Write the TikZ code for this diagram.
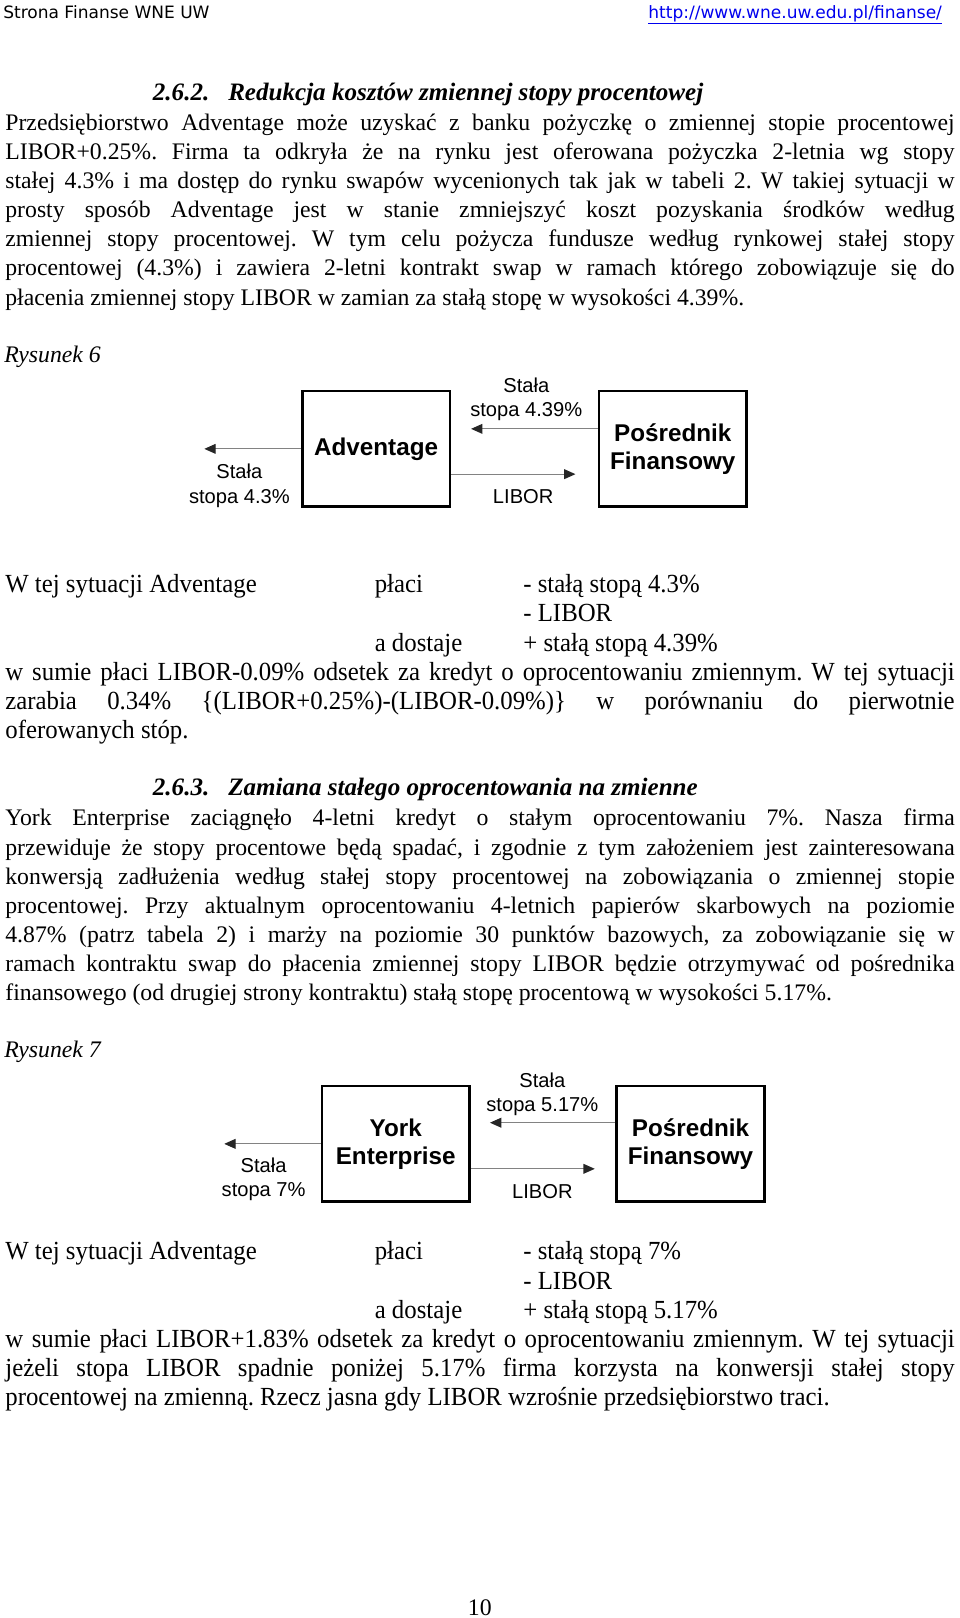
\documentclass[tikz,border=0pt]{standalone}
\usepackage{fontspec}
\setmainfont{Liberation Serif}
\newfontfamily\sansfam{Liberation Sans}
\newfontfamily\webfam{DejaVu Sans}
\newfontfamily\condfam[FakeStretch=0.95]{Liberation Serif}
\usetikzlibrary{arrows.meta}
\definecolor{linkblue}{RGB}{0,0,238}
\definecolor{flowgray}{RGB}{130,130,130}
\frenchspacing
\newcommand{\txtfont}{\fontsize{23}{28.2}\selectfont}
\newcommand{\condtxt}{\condfam\fontsize{25.3}{28.2}\selectfont}
\newcommand{\jline}[1]{\makebox[920pt][s]{#1}}
\tikzset{
  txt/.style={anchor=base west, inner sep=0pt, font=\txtfont},
  cond/.style={anchor=base west, inner sep=0pt, font=\condtxt},
  head/.style={anchor=base west, inner sep=0pt, font=\fontsize{24.3}{28}\selectfont\bfseries\itshape},
  box/.style={draw, line width=2.5pt, minimum width=143pt, minimum height=112pt, inner sep=0pt,
    align=center, font=\sansfam\bfseries\fontsize{23.5}{27}\selectfont},
  lbl/.style={inner sep=0pt, align=center, font=\sansfam\fontsize{19.5}{23.5}\selectfont},
  flow/.style={draw=flowgray, line width=1.1pt, -{Triangle[length=11pt,width=9.5pt,color=black!85]}},
}
\begin{document}
\begin{tikzpicture}[x=1pt,y=-1pt]
\useasboundingbox (0,0) rectangle (930,1568);
% header
\node[anchor=base west, inner sep=0pt, font=\webfam\fontsize{16.5}{19}\selectfont] (site) at (3,17.5) {Strona Finanse WNE UW};
\node[anchor=base east, inner sep=0pt, font=\webfam\fontsize{16.5}{19}\selectfont, text=linkblue] (url) at (913,17.5) {\underline{http://www.wne.uw.edu.pl/finanse/}};
% 2.6.2
\node[head] (h1) at (148,97.5) {2.6.2.};
\node[head] (h1t) at (221,97.5) {Redukcja kosztów zmiennej stopy procentowej};
\foreach \t [count=\i from 0] in {
  {Przedsiębiorstwo Adventage może uzyskać z banku pożyczkę o zmiennej stopie procentowej},
  {LIBOR+0.25\%. Firma ta odkryła że na rynku jest oferowana pożyczka 2-letnia wg stopy},
  {stałej 4.3\% i ma dostęp do rynku swapów wycenionych tak jak w tabeli 2. W takiej sytuacji w},
  {prosty sposób Adventage jest w stanie zmniejszyć koszt pozyskania środków według},
  {zmiennej stopy procentowej. W tym celu pożycza fundusze według rynkowej stałej stopy},
  {procentowej (4.3\%) i zawiera 2-letni kontrakt swap w ramach którego zobowiązuje się do}}
  \node[txt] (a\i) at (5,{126.4+28.2*\i}) {\jline{\t}};
\node[txt] (a6) at (5,295.6) {płacenia zmiennej stopy LIBOR w zamian za stałą stopę w wysokości 4.39\%.};
\node[txt, font=\txtfont\itshape] (fig6) at (4,351) {Rysunek 6};
% Rysunek 6
\node[box] (adv) at (364.5,435) {Adventage};
\node[box] (pos) at (652,435) {Pośrednik\\Finansowy};
\coordinate (adv-out) at (198,435);
\coordinate (fix-in) at (456.5,415.6);
\coordinate (libor-in) at (557.7,459.5);
\draw[flow] (adv.west) -- (adv-out);
\draw[flow] (pos.west |- fix-in) -- (fix-in);
\draw[flow] (adv.east |- libor-in) -- (libor-in);
\node[lbl] (fix-a) at (510,386.7) {Stała\\stopa 4.39\%};
\node[lbl] (out-a) at (232,470.7) {Stała\\stopa 4.3\%};
\node[lbl] (libor-a) at (507,481) {LIBOR};
% podsumowanie 1
\node[cond] (b0) at (5,574.5) {W tej sytuacji Adventage};
\node[cond] (b0p) at (363,574.5) {płaci};
\node[cond] (b0r) at (507,574.5) {- stałą stopą 4.3\%};
\node[cond] (b1r) at (507,602.7) {- LIBOR};
\node[cond] (b2p) at (363,630.9) {a dostaje};
\node[cond] (b2r) at (507,630.9) {+ stałą stopą 4.39\%};
\node[cond] (b3) at (5,659.1) {\jline{w sumie płaci LIBOR-0.09\% odsetek za kredyt o oprocentowaniu zmiennym. W tej sytuacji}};
\node[cond] (b4) at (5,687.3) {\jline{zarabia 0.34\% \{(LIBOR+0.25\%)-(LIBOR-0.09\%)\} w porównaniu do pierwotnie}};
\node[cond] (b5) at (5,715.5) {oferowanych stóp.};
% 2.6.3
\node[head] (h2) at (148,771) {2.6.3.};
\node[head] (h2t) at (221,771) {Zamiana stałego oprocentowania na zmienne};
\foreach \t [count=\i from 0] in {
  {York Enterprise zaciągnęło 4-letni kredyt o stałym oprocentowaniu 7\%. Nasza firma},
  {przewiduje że stopy procentowe będą spadać, i zgodnie z tym założeniem jest zainteresowana},
  {konwersją zadłużenia według stałej stopy procentowej na zobowiązania o zmiennej stopie},
  {procentowej. Przy aktualnym oprocentowaniu 4-letnich papierów skarbowych na poziomie},
  {4.87\% (patrz tabela 2) i marży na poziomie 30 punktów bazowych, za zobowiązanie się w},
  {ramach kontraktu swap do płacenia zmiennej stopy LIBOR będzie otrzymywać od pośrednika}}
  \node[txt] (c\i) at (5,{800.4+28.2*\i}) {\jline{\t}};
\node[txt] (c6) at (5,969.6) {finansowego (od drugiej strony kontraktu) stałą stopę procentową w wysokości 5.17\%.};
\node[txt, font=\txtfont\itshape] (fig7) at (4,1025) {Rysunek 7};
% Rysunek 7
\node[box] (york) at (383.5,1108.5) {York\\Enterprise};
\node[box] (pos2) at (669.2,1108.5) {Pośrednik\\Finansowy};
\coordinate (york-out) at (217.3,1108.5);
\coordinate (fix2-in) at (474.8,1088);
\coordinate (libor2-in) at (576.4,1132.7);
\draw[flow] (york.west) -- (york-out);
\draw[flow] (pos2.west |- fix2-in) -- (fix2-in);
\draw[flow] (york.east |- libor2-in) -- (libor2-in);
\node[lbl] (fix-b) at (525.6,1060.7) {Stała\\stopa 5.17\%};
\node[lbl] (out-b) at (255.5,1143) {Stała\\stopa 7\%};
\node[lbl] (libor-b) at (525.6,1154.4) {LIBOR};
% podsumowanie 2
\node[cond] (d0) at (5,1221) {W tej sytuacji Adventage};
\node[cond] (d0p) at (363,1221) {płaci};
\node[cond] (d0r) at (507,1221) {- stałą stopą 7\%};
\node[cond] (d1r) at (507,1249.2) {- LIBOR};
\node[cond] (d2p) at (363,1277.4) {a dostaje};
\node[cond] (d2r) at (507,1277.4) {+ stałą stopą 5.17\%};
\node[cond] (d3) at (5,1305.6) {\jline{w sumie płaci LIBOR+1.83\% odsetek za kredyt o oprocentowaniu zmiennym. W tej sytuacji}};
\node[cond] (d4) at (5,1333.8) {\jline{jeżeli stopa LIBOR spadnie poniżej 5.17\% firma korzysta na konwersji stałej stopy}};
\node[cond] (d5) at (5,1362) {procentowej na zmienną. Rzecz jasna gdy LIBOR wzrośnie przedsiębiorstwo traci.};
% numer strony
\node[txt, anchor=base] (pagenum) at (465,1566) {10};
\end{tikzpicture}
\end{document}
